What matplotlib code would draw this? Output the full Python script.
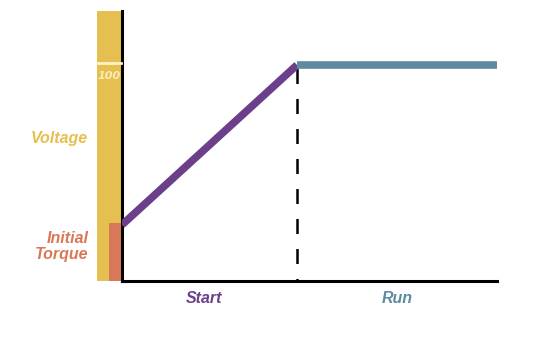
import matplotlib.pyplot as plt

# data (time units, voltage in percent)
start_t = [0, 7]
start_v = [26, 100]
run_t = [7, 15]
run_v = [100, 100]
initial_torque = 27
voltage_max = 125
phase_labels = ['Start', 'Run']
phase_centers = [3.3, 11.0]

yellow = '#E5BF4F'
orange = '#D97858'
purple = '#6B3F8A'
blue = '#5F8BA0'

fig = plt.figure(figsize=(5.35, 3.38), dpi=100)
ax = fig.add_axes([122 / 535, 1 - 281 / 338, 375 / 535, 270 / 338])
ax.set_xlim(0, 15)
ax.set_ylim(0, voltage_max)

# voltage and torque bars left of the axis
ax.bar(-0.52, voltage_max, width=0.96, color=yellow, clip_on=False, zorder=1)
ax.bar(-0.28, initial_torque, width=0.48, color=orange, clip_on=False, zorder=2)
ax.plot([-1.0, -0.04], [101, 101], color='#FFF3C8', lw=2, clip_on=False, zorder=3)
ax.text(-0.52, 97, '100', color='#FCEBB8', fontsize=8, style='italic',
        weight='bold', ha='center', va='top')

# ramp and run lines
ax.plot(start_t, start_v, color=purple, lw=5.5, solid_capstyle='butt', zorder=4)
ax.plot(run_t, run_v, color=blue, lw=5.5, solid_capstyle='butt', zorder=4)
ax.plot([7, 7], [102, 0], color='black', lw=1.8, ls=(9, (6, 6)), zorder=3)

for s in ['top', 'right']:
    ax.spines[s].set_visible(False)
for s in ['left', 'bottom']:
    ax.spines[s].set_linewidth(2.2)
    ax.spines[s].set_color('black')
ax.set_xticks([])
ax.set_yticks([])

font = dict(fontsize=11.5, weight='bold', style='italic', family='Liberation Sans')
ax.text(-1.35, 66, 'Voltage', color=yellow, ha='right', va='center', **font)
ax.text(-1.35, 16, 'Initial\nTorque', color=orange, ha='right', va='center',
        linespacing=1.05, **font)
for lab, c, col in zip(phase_labels, phase_centers, [purple, blue]):
    ax.text(c, -8, lab, color=col, ha='center', va='center', **font)

fig.savefig('out.png', dpi=100)
